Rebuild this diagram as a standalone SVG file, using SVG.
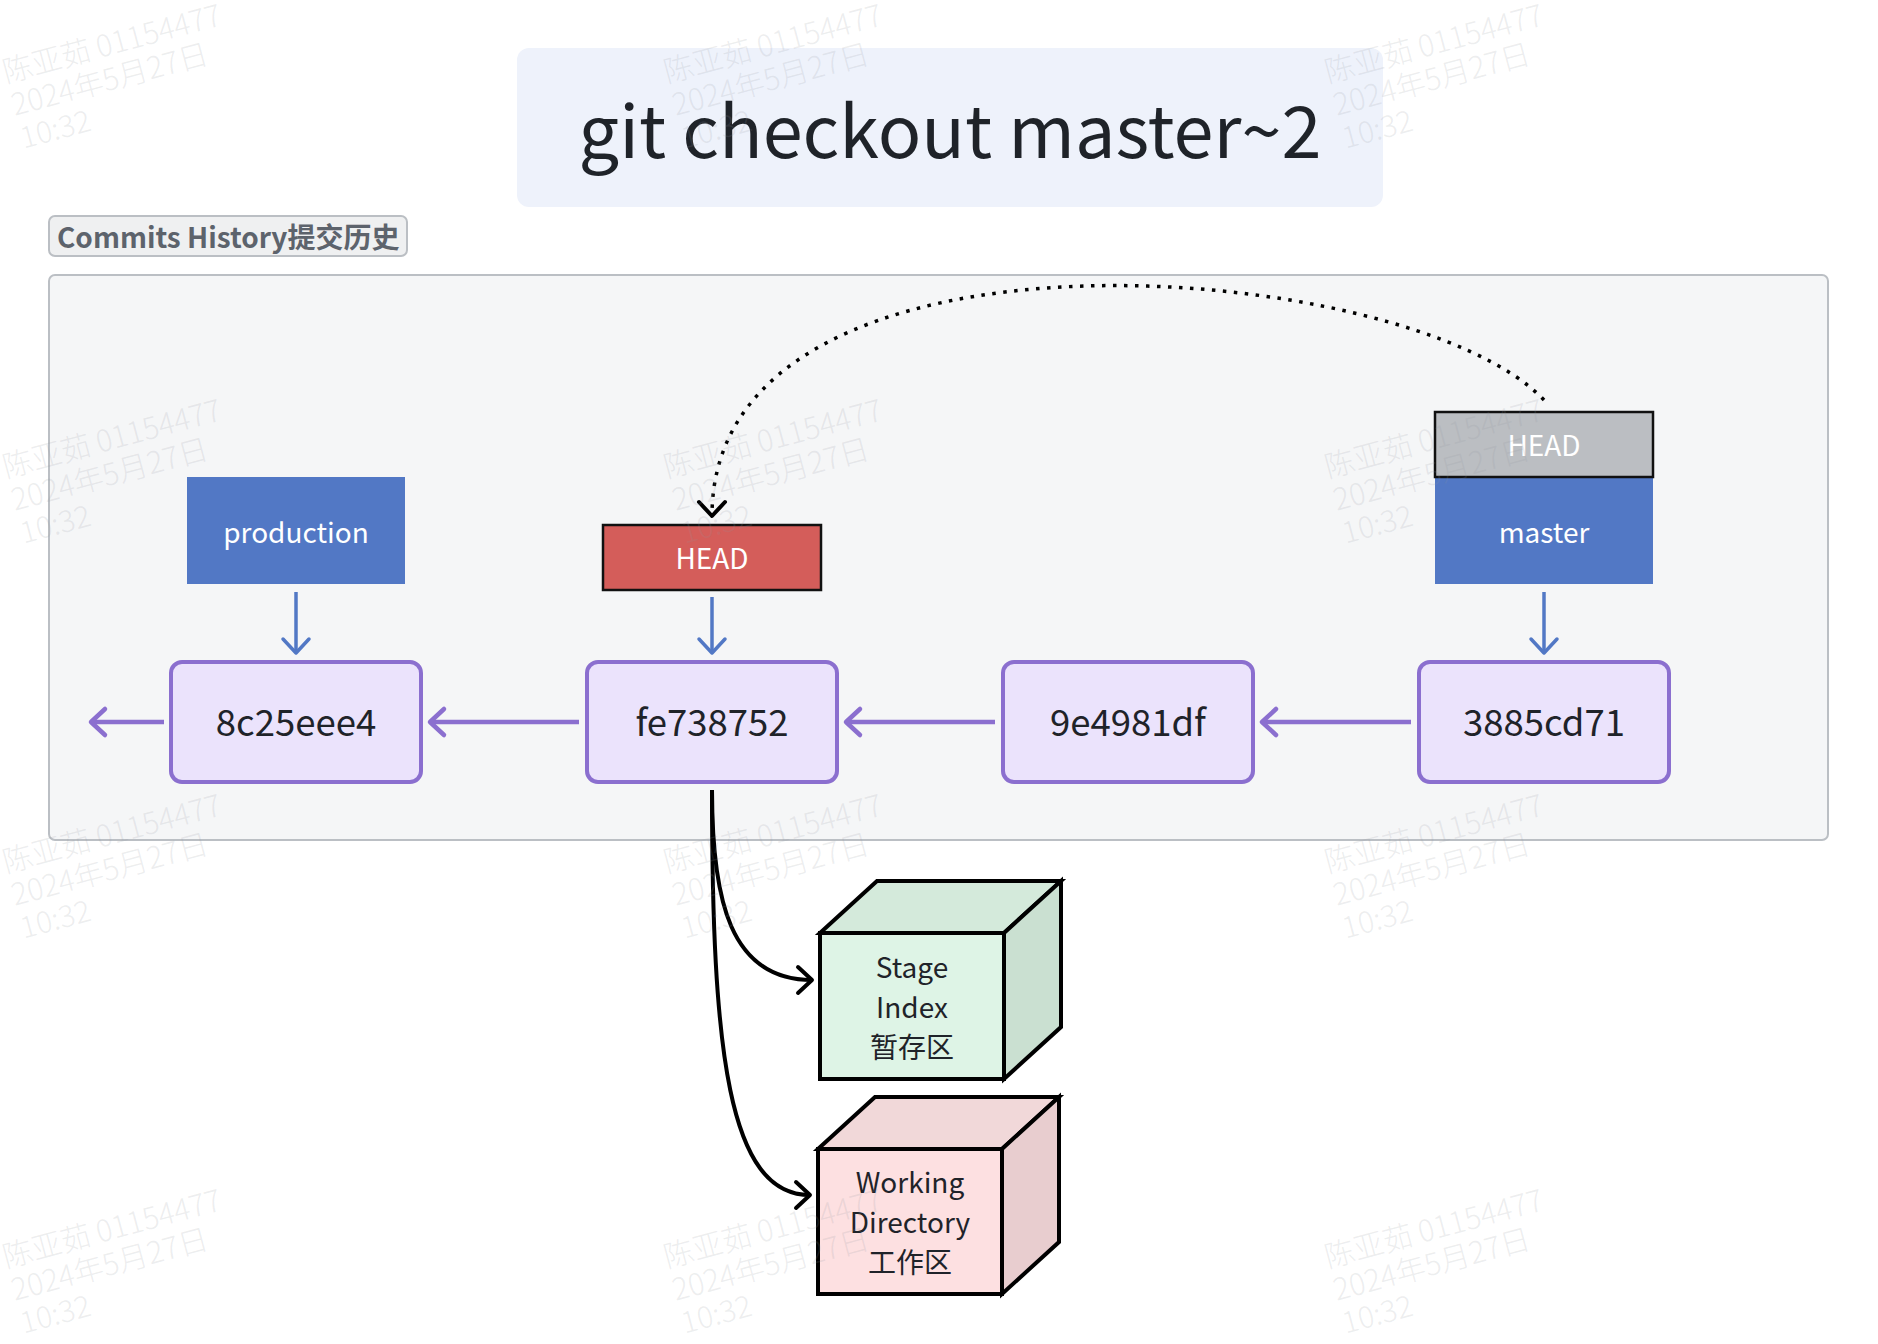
<svg xmlns="http://www.w3.org/2000/svg" width="1878" height="1344" viewBox="0 0 1878 1344">
  <style>
    text { font-family: "Noto Sans CJK SC", "Noto Sans", sans-serif; }
    .commit rect { fill: #ebe3fc; stroke: #8b6fcf; stroke-width: 4; }
    .commit text { font-size: 36.5px; fill: #1f2329; text-anchor: middle; }
    .label text { font-size: 28px; fill: #ffffff; text-anchor: middle; }
    .blue { fill: #5278c5; }
    .purple-line { stroke: #8b6fcf; stroke-width: 4.5; fill: none; marker-end: url(#mPurple); }
    .blue-line { stroke: #5278c5; stroke-width: 3.5; fill: none; marker-end: url(#mBlue); }
    .black-line { stroke: #000; stroke-width: 4; fill: none; marker-end: url(#mBlack); }
    .cube polygon, .cube rect { stroke: #000; stroke-width: 4; stroke-linejoin: miter; }
    .cube text { font-size: 28px; fill: #1f2329; text-anchor: middle; }
  </style>
  <defs>
    <marker id="mPurple" markerUnits="userSpaceOnUse" markerWidth="40" markerHeight="40" refX="20" refY="20" orient="auto" overflow="visible">
      <path d="M6,7 L20,20 L6,33" fill="none" stroke="#8b6fcf" stroke-width="4.5" stroke-linecap="round" stroke-linejoin="round"/>
    </marker>
    <marker id="mBlue" markerUnits="userSpaceOnUse" markerWidth="40" markerHeight="40" refX="20" refY="20" orient="auto" overflow="visible">
      <path d="M6,7 L20,20 L6,33" fill="none" stroke="#5278c5" stroke-width="3.5" stroke-linecap="round" stroke-linejoin="round"/>
    </marker>
    <marker id="mBlack" markerUnits="userSpaceOnUse" markerWidth="40" markerHeight="40" refX="20" refY="20" orient="auto" overflow="visible">
      <path d="M6,7 L20,20 L6,33" fill="none" stroke="#000" stroke-width="4" stroke-linecap="round" stroke-linejoin="round"/>
    </marker>
    <g id="wmark" font-family="Noto Sans CJK SC, Noto Sans, sans-serif" font-size="30" font-weight="300" fill="#8f959e" fill-opacity="0.17">
      <text x="0" y="0">陈亚茹 01154477</text>
      <text x="0" y="34">2024年5月27日</text>
      <text x="0" y="68">10:32</text>
    </g>
  </defs>

  <rect x="0" y="0" width="1878" height="1344" fill="#ffffff"/>

  <g id="title">
    <rect x="517" y="48" width="866" height="159" rx="12" fill="#eef2fb"/>
    <text x="950" y="158" font-size="72" fill="#1f2329" text-anchor="middle">git checkout master~2</text>
  </g>

  <g id="commits-history-label">
    <rect x="49" y="216" width="358" height="40" rx="6" fill="#eff0f1" stroke="#bbbfc4" stroke-width="2"/>
    <text x="57" y="248" font-size="28" font-weight="bold" fill="#5d636c">Commits History提交历史</text>
  </g>

  <g id="commits-container">
    <rect x="49" y="275" width="1779" height="565" rx="6" fill="#f5f6f7" stroke="#bbbfc4" stroke-width="2"/>
  </g>

  <g id="connectors">
    <line class="purple-line" x1="164" y1="722" x2="91" y2="722"/>
    <line class="purple-line" x1="579" y1="722" x2="430" y2="722"/>
    <line class="purple-line" x1="995" y1="722" x2="846" y2="722"/>
    <line class="purple-line" x1="1411" y1="722" x2="1262" y2="722"/>
    <line class="blue-line" x1="296" y1="592" x2="296" y2="653"/>
    <line class="blue-line" x1="712" y1="597" x2="712" y2="653"/>
    <line class="blue-line" x1="1544" y1="592" x2="1544" y2="653"/>
    <path d="M1544,400 C1410,258 712,200 712,516" fill="none" stroke="#000" stroke-width="3.5" stroke-dasharray="3.5 7.5" marker-end="url(#mBlack)"/>
    <path class="black-line" d="M712,790 C712,900 730,980 812,980"/>
    <path class="black-line" d="M712,790 C712,1050 728,1195 810,1195"/>
  </g>

  <g id="production" class="label">
    <rect class="blue" x="187" y="477" width="218" height="107"/>
    <text x="296" y="543">production</text>
  </g>

  <g id="head-detached" class="label">
    <rect x="603" y="525" width="218" height="65" fill="#d45d5a" stroke="#111" stroke-width="2.5"/>
    <text x="712" y="569">HEAD</text>
  </g>

  <g id="master" class="label">
    <rect class="blue" x="1435" y="477" width="218" height="107"/>
    <text x="1544" y="543">master</text>
  </g>

  <g id="head-old" class="label">
    <rect x="1435" y="412" width="218" height="65" fill="#bbbec2" stroke="#111" stroke-width="2.5"/>
    <text x="1544" y="456">HEAD</text>
  </g>

  <g id="c-8c25eee4" class="commit">
    <rect x="171" y="662" width="250" height="120" rx="11"/>
    <text x="296" y="736">8c25eee4</text>
  </g>
  <g id="c-fe738752" class="commit">
    <rect x="587" y="662" width="250" height="120" rx="11"/>
    <text x="712" y="736">fe738752</text>
  </g>
  <g id="c-9e4981df" class="commit">
    <rect x="1003" y="662" width="250" height="120" rx="11"/>
    <text x="1128" y="736">9e4981df</text>
  </g>
  <g id="c-3885cd71" class="commit">
    <rect x="1419" y="662" width="250" height="120" rx="11"/>
    <text x="1544" y="736">3885cd71</text>
  </g>

  <g id="stage-index" class="cube">
    <polygon points="820,933 877,881 1061,881 1004,933" fill="#d4eadb"/>
    <polygon points="1004,933 1061,881 1061,1027 1004,1079" fill="#cae0d1"/>
    <rect x="820" y="933" width="184" height="146" fill="#def4e6"/>
    <text x="912" y="978">Stage</text>
    <text x="912" y="1018">Index</text>
    <text x="912" y="1058">暂存区</text>
  </g>

  <g id="working-directory" class="cube">
    <polygon points="818,1149 875,1097 1059,1097 1002,1149" fill="#f1d8d9"/>
    <polygon points="1002,1149 1059,1097 1059,1242 1002,1294" fill="#e8cdcf"/>
    <rect x="818" y="1149" width="184" height="145" fill="#fde0e1"/>
    <text x="910" y="1193">Working</text>
    <text x="910" y="1233">Directory</text>
    <text x="910" y="1273">工作区</text>
  </g>

  <g id="watermarks">
    <use href="#wmark" transform="translate(6,83) rotate(-15)"/>
    <use href="#wmark" transform="translate(667,83) rotate(-15)"/>
    <use href="#wmark" transform="translate(1328,83) rotate(-15)"/>
    <use href="#wmark" transform="translate(6,478) rotate(-15)"/>
    <use href="#wmark" transform="translate(667,478) rotate(-15)"/>
    <use href="#wmark" transform="translate(1328,478) rotate(-15)"/>
    <use href="#wmark" transform="translate(6,873) rotate(-15)"/>
    <use href="#wmark" transform="translate(667,873) rotate(-15)"/>
    <use href="#wmark" transform="translate(1328,873) rotate(-15)"/>
    <use href="#wmark" transform="translate(6,1268) rotate(-15)"/>
    <use href="#wmark" transform="translate(667,1268) rotate(-15)"/>
    <use href="#wmark" transform="translate(1328,1268) rotate(-15)"/>
  </g>
</svg>
